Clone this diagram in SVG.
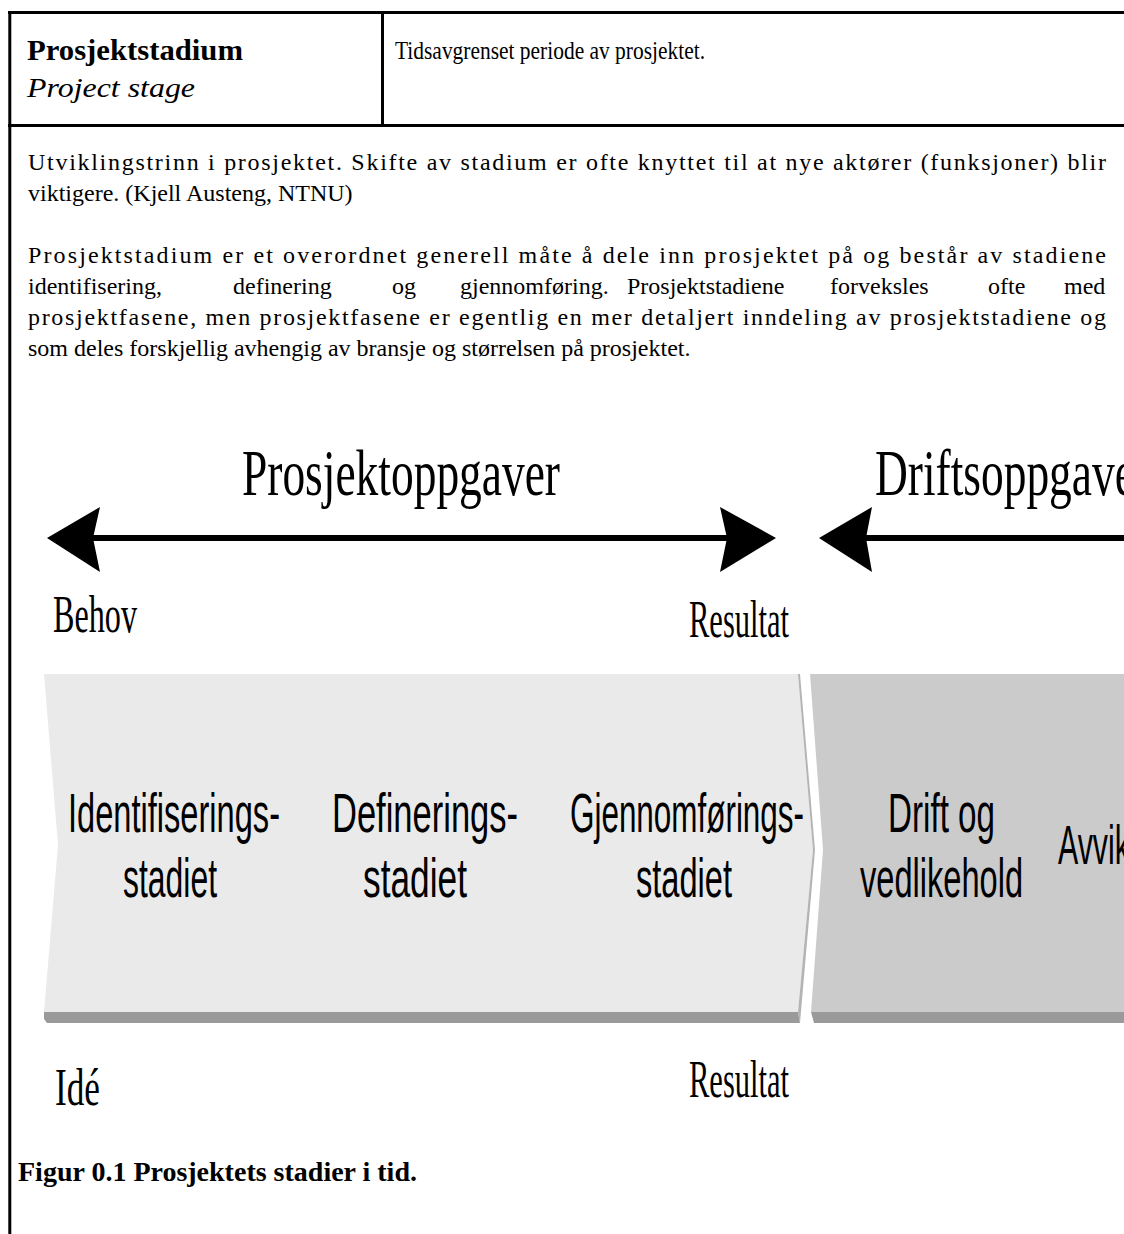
<svg xmlns="http://www.w3.org/2000/svg" width="1124" height="1234" viewBox="0 0 1124 1234">
<style>
.frame{stroke:#000;stroke-width:3;fill:none}
.serif{font-family:"Liberation Serif","Times New Roman",serif;fill:#000}
.body{font-size:24px}
.big{font-size:65px}
.lbl{font-size:52px}
.sans{font-family:"Liberation Sans",Arial,sans-serif;font-size:56px;fill:#000}
.light{fill:#eaeaea}
.dark{fill:#cbcbcb}
.strip{fill:#9a9a9a}
.side{fill:#b4b4b4}
.arrowline{fill:#000}
</style>
<rect width="1124" height="1234" fill="#fff"/>
<g id="frame">
<line class="frame" x1="8" y1="12.5" x2="1124" y2="12.5"/>
<line class="frame" x1="9.8" y1="11" x2="9.8" y2="1234"/>
<line class="frame" x1="382.5" y1="11" x2="382.5" y2="127"/>
<line class="frame" x1="8" y1="125.5" x2="1124" y2="125.5"/>
</g>
<g id="header">
<text class="serif" x="27" y="60" font-size="29" font-weight="bold" textLength="216" lengthAdjust="spacingAndGlyphs">Prosjektstadium</text>
<text class="serif" x="27" y="97" font-size="28" font-style="italic" textLength="168" lengthAdjust="spacingAndGlyphs">Project stage</text>
<text class="serif" x="395" y="59" font-size="25" textLength="310" lengthAdjust="spacingAndGlyphs">Tidsavgrenset periode av prosjektet.</text>
</g>
<g id="description" class="serif body">
<text x="28" y="170" textLength="1078" lengthAdjust="spacing">Utviklingstrinn i prosjektet. Skifte av stadium er ofte knyttet til at nye aktører (funksjoner) blir</text>
<text x="28" y="201">viktigere. (Kjell Austeng, NTNU)</text>
<text x="28" y="263" textLength="1078" lengthAdjust="spacing">Prosjektstadium er et overordnet generell måte å dele inn prosjektet på og består av stadiene</text>
<text y="294"><tspan x="28">identifisering,</tspan><tspan x="233">definering</tspan><tspan x="392">og</tspan><tspan x="460">gjennomføring.</tspan><tspan x="627">Prosjektstadiene</tspan><tspan x="830">forveksles</tspan><tspan x="988">ofte</tspan><tspan x="1064">med</tspan></text>
<text x="28" y="325" textLength="1078" lengthAdjust="spacing">prosjektfasene, men prosjektfasene er egentlig en mer detaljert inndeling av prosjektstadiene og</text>
<text x="28" y="356">som deles forskjellig avhengig av bransje og størrelsen på prosjektet.</text>
</g>
<g id="title-prosjekt">
<text class="serif big" x="242" y="495" textLength="318" lengthAdjust="spacingAndGlyphs">Prosjektoppgaver</text>
</g>
<g id="title-drift">
<text class="serif big" x="875" y="495" textLength="275" lengthAdjust="spacingAndGlyphs">Driftsoppgaver</text>
</g>
<g id="connectors">
<rect class="arrowline" x="92" y="535" width="636" height="6"/>
<polygon class="arrowline" points="47,538 100,507 93,538 100,572"/>
<polygon class="arrowline" points="776,538 720,507 727,538 720,572"/>
<rect class="arrowline" x="865" y="535" width="260" height="6"/>
<polygon class="arrowline" points="819,538 872,507 866,538 872,572"/>
</g>
<g id="label-behov"><text class="serif lbl" x="53" y="632" textLength="84" lengthAdjust="spacingAndGlyphs">Behov</text></g>
<g id="label-resultat-top"><text class="serif lbl" x="689" y="637" textLength="100" lengthAdjust="spacingAndGlyphs">Resultat</text></g>
<g id="stage-prosjekt">
<polygon class="light" points="44,674 798,674 813,850 798,1012 44,1012 58,845"/>
<polygon class="side" points="798,674 800,674 815,850 800,1023 798,1012 813,850"/>
<polygon class="strip" points="44,1012 798,1012 800,1023 47,1023 44,1019"/>
<text class="sans" x="68" y="832" textLength="212" lengthAdjust="spacingAndGlyphs">Identifiserings-</text>
<text class="sans" x="123" y="897" textLength="94" lengthAdjust="spacingAndGlyphs">stadiet</text>
<text class="sans" x="332" y="832" textLength="186" lengthAdjust="spacingAndGlyphs">Definerings-</text>
<text class="sans" x="363" y="897" textLength="104" lengthAdjust="spacingAndGlyphs">stadiet</text>
<text class="sans" x="570" y="832" textLength="234" lengthAdjust="spacingAndGlyphs">Gjennomførings-</text>
<text class="sans" x="636" y="897" textLength="96" lengthAdjust="spacingAndGlyphs">stadiet</text>
</g>
<g id="stage-drift">
<polygon class="dark" points="810,674 1124,674 1124,1012 811,1012 823,850"/>
<polygon class="strip" points="811,1012 1124,1012 1124,1023 814,1023"/>
<text class="sans" x="888" y="832" textLength="107" lengthAdjust="spacingAndGlyphs">Drift og</text>
<text class="sans" x="860" y="897" textLength="163" lengthAdjust="spacingAndGlyphs">vedlikehold</text>
<text class="sans" x="1058" y="864" textLength="119" lengthAdjust="spacingAndGlyphs">Avvikling</text>
</g>
<g id="label-ide"><text class="serif lbl" x="55" y="1105" textLength="45" lengthAdjust="spacingAndGlyphs">Idé</text></g>
<g id="label-resultat-bottom"><text class="serif lbl" x="689" y="1097" textLength="100" lengthAdjust="spacingAndGlyphs">Resultat</text></g>
<g id="caption">
<text class="serif" x="18" y="1181" font-size="28" font-weight="bold">Figur 0.1  Prosjektets stadier i tid.</text>
</g>
</svg>
